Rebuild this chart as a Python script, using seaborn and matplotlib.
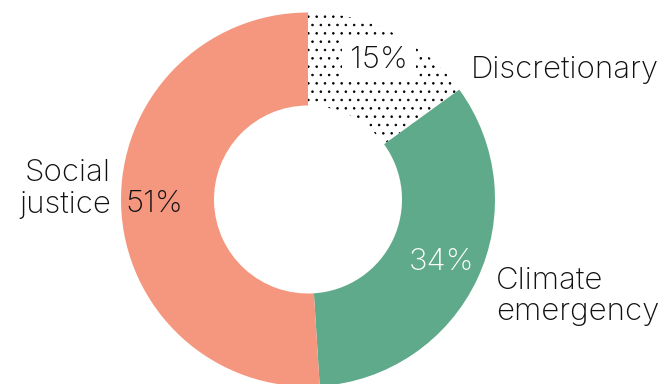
import matplotlib
matplotlib.use("Agg")
import matplotlib.pyplot as plt
import seaborn as sns
import numpy as np

categories = ["Discretionary", "Climate\nemergency", "Social\njustice"]
values = [15, 34, 51]
pct_labels = ["15%", "34%", "51%"]
colors = ["#FFFFFF", "#5FAA8A", "#F5977F"]
pct_colors = ["#111111", "#FFFFFF", "#111111"]

sns.set_theme(style="white")
plt.rcParams['font.family'] = ['Inter', 'DejaVu Sans']
plt.rcParams['hatch.linewidth'] = 0.6

W, H = 664, 384
fig = plt.figure(figsize=(W / 100, H / 100), dpi=100)
ax = fig.add_axes([0, 0, 1, 1])

cx, cy, R, r_in = 308, 184.5, 187, 94
wedges, _ = ax.pie(values, colors=colors, startangle=90, counterclock=False,
                   center=(cx, cy), radius=R, frame=True,
                   wedgeprops=dict(width=R - r_in, linewidth=0))
ax.set_xlim(0, W)
ax.set_ylim(0, H)
ax.set_aspect("equal")
ax.axis("off")
wedges[0].set_hatch("..")
wedges[0].set_edgecolor("black")
wedges[0].set_linewidth(0)

# percentage labels at mid-angles
cum = np.cumsum([0] + values[:-1])
total = sum(values)
dists = [0.835, 0.79, 0.82]
fs = 22.5
fw = "light"
for i, (v, c0, lab, col, d) in enumerate(zip(values, cum, pct_labels, pct_colors, dists)):
    ang = np.deg2rad(90 - 360 * (c0 + v / 2) / total)
    x = cx + d * R * np.cos(ang)
    y = cy + d * R * np.sin(ang)
    kw = {}
    if i == 0:
        kw["bbox"] = dict(boxstyle="square,pad=0.25", fc="white", ec="none")
    ax.text(x, y, lab, ha="center", va="center", fontsize=fs, color=col,
            fontweight=fw, **kw)

ax.text(471, H - 70, categories[0], ha="left", va="center", fontsize=fs,
        color="#111111", fontweight=fw)
ax.text(496, H - 296, categories[1], ha="left", va="center", fontsize=fs,
        color="#111111", linespacing=1.15, fontweight=fw)
ax.text(111, H - 189, categories[2], ha="right", va="center", fontsize=fs,
        color="#111111", linespacing=1.15, fontweight=fw)

fig.savefig("out.png", dpi=100)
